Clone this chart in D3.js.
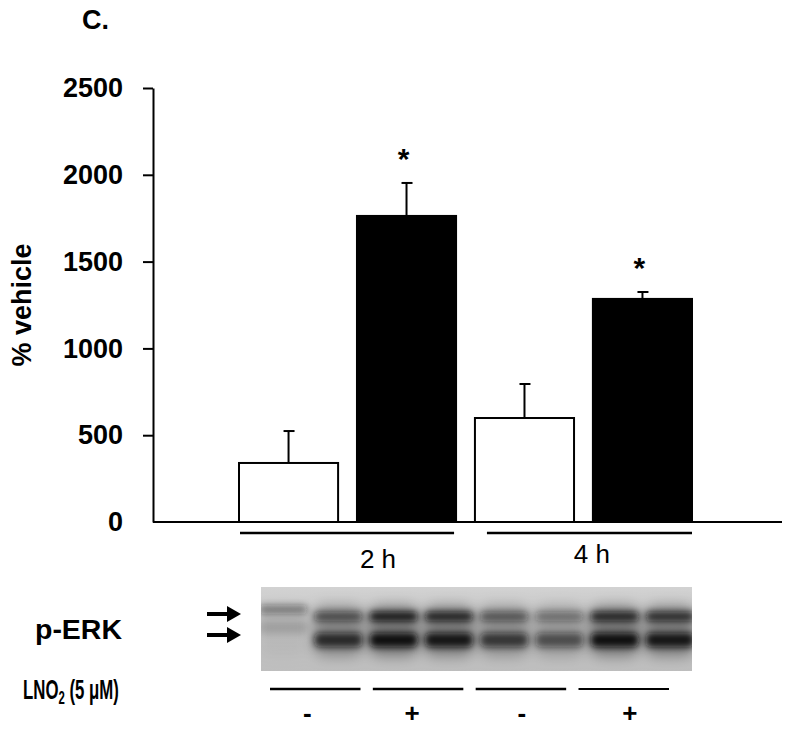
<!DOCTYPE html>
<html>
<head>
<meta charset="utf-8">
<script src="https://cdn.jsdelivr.net/npm/d3@7"></script>
<style>
  body { margin: 0; background: #fff; }
  text { font-family: "Liberation Sans", Arial, sans-serif; }
</style>
</head>
<body>
<div id="chart"></div>
<script>
// bar data (% vehicle)
var conditions = ["2h-", "2h+", "4h-", "4h+"];
var means = [340, 1763, 599, 1285];
var errors = [184, 190, 196, 40];
var treated = [false, true, false, true];
var significant = [false, true, false, true];
var yTicks = [0, 500, 1000, 1500, 2000, 2500];

var groups = ["2 h", "4 h"];

// western blot: band intensity per lane (0 = none, 1 = black)
var lanes = [1, 2, 3, 4, 5, 6, 7, 8];
var upperBand = [0.45, 0.60, 0.97, 0.90, 0.55, 0.40, 0.88, 0.82];
var lowerBand = [0.15, 0.80, 1.00, 0.95, 0.72, 0.58, 1.00, 0.95];
var treatments = ["-", "+", "-", "+"];

var W = 800, H = 729;

var svg = d3.select("#chart").append("svg")
    .attr("width", W)
    .attr("height", H);

var y = d3.scaleLinear()
    .domain([0, 2500])
    .range([522, 88]);

var x = d3.scaleBand()
    .domain(conditions)
    .range([239, 692])
    .paddingInner(0.16)
    .paddingOuter(0);

var bw = x.bandwidth();

/* panel letter */
svg.append("text")
    .attr("x", 82).attr("y", 29)
    .attr("font-size", 27).attr("font-weight", "bold")
    .text("C.");

/* axe y */
var yAxis = d3.axisLeft(y)
    .tickValues(yTicks)
    .tickFormat(d3.format("d"))
    .tickSize(10)
    .tickSizeOuter(0)
    .tickPadding(20);

var gy = svg.append("g")
    .attr("transform", "translate(153,0)")
    .call(yAxis);

gy.select(".domain").attr("stroke", "#000").attr("stroke-width", 2);
gy.selectAll(".tick line")
    .attr("stroke", "#000").attr("stroke-width", 2)
    .filter(function(d) { return d == 0; }).remove();
gy.selectAll(".tick text")
    .attr("font-family", "'Liberation Sans', Arial, sans-serif")
    .attr("font-size", 27).attr("font-weight", "bold")
    .attr("fill", "#000");

svg.append("text")
    .attr("transform", "translate(31," + ((y(0) + y(2500)) / 2) + ") rotate(-90)")
    .attr("text-anchor", "middle")
    .attr("font-size", 27).attr("font-weight", "bold")
    .text("% vehicle");

/* bars */
svg.append("g").selectAll("rect")
    .data(conditions)
    .enter().append("rect")
    .attr("x", function(d) { return x(d); })
    .attr("y", function(d, i) { return y(means[i]); })
    .attr("width", bw)
    .attr("height", function(d, i) { return y(0) - y(means[i]); })
    .attr("fill", function(d, i) { return treated[i] ? "#000" : "#fff"; })
    .attr("stroke", "#000")
    .attr("stroke-width", 2);

/* error bars (up only) */
var err = svg.append("g").attr("stroke", "#000").attr("stroke-width", 2);
conditions.forEach(function(d, i) {
    var cx = x(d) + bw / 2;
    err.append("line")
        .attr("x1", cx).attr("x2", cx)
        .attr("y1", y(means[i])).attr("y2", y(means[i] + errors[i]));
    err.append("line")
        .attr("x1", cx - 5).attr("x2", cx + 6)
        .attr("y1", y(means[i] + errors[i])).attr("y2", y(means[i] + errors[i]));
});

/* stars */
svg.append("g").selectAll("text")
    .data(conditions.filter(function(d, i) { return significant[i]; }))
    .enter().append("text")
    .attr("x", function(d) { return x(d) + bw / 2 - 3; })
    .attr("y", function(d) { var i = conditions.indexOf(d); return y(means[i] + errors[i]) - 14; })
    .attr("text-anchor", "middle")
    .attr("font-size", 30).attr("font-weight", "bold")
    .text("*");

/* baseline */
svg.append("line")
    .attr("x1", 153).attr("x2", 782)
    .attr("y1", y(0)).attr("y2", y(0))
    .attr("stroke", "#000").attr("stroke-width", 2);

/* time groups */
var grpLines = [
    [x("2h-") + 1, x("2h+") + bw - 2],
    [x("4h-") + 12, x("4h+") + bw]
];
var grpText = [x("2h+") + 21, x("4h+") - 1];
var grpY = [568, 563];

groups.forEach(function(g, i) {
    svg.append("line")
        .attr("x1", grpLines[i][0]).attr("x2", grpLines[i][1])
        .attr("y1", 533).attr("y2", 533)
        .attr("stroke", "#000").attr("stroke-width", 2.5);
    svg.append("text")
        .attr("x", grpText[i]).attr("y", grpY[i])
        .attr("text-anchor", "middle")
        .attr("font-size", 26)
        .text(g);
});

/* western blot */
var defs = svg.append("defs");
defs.append("filter").attr("id", "flou")
    .attr("x", "-30%").attr("y", "-80%").attr("width", "160%").attr("height", "260%")
    .append("feGaussianBlur").attr("stdDeviation", 3.8);
defs.append("filter").attr("id", "flou2")
    .attr("x", "-30%").attr("y", "-80%").attr("width", "160%").attr("height", "260%")
    .append("feGaussianBlur").attr("stdDeviation", 7);
var grad = defs.append("linearGradient").attr("id", "fond")
    .attr("x1", 0).attr("x2", 0).attr("y1", 0).attr("y2", 1);
grad.append("stop").attr("offset", "0%").attr("stop-color", "#d2d2d2");
grad.append("stop").attr("offset", "100%").attr("stop-color", "#bebebe");

var blot = { x0: 261, x1: 692, y0: 587, y1: 671 };
var clip = defs.append("clipPath").attr("id", "blotclip");
clip.append("rect")
    .attr("x", blot.x0).attr("y", blot.y0)
    .attr("width", blot.x1 - blot.x0).attr("height", blot.y1 - blot.y0);

svg.append("rect")
    .attr("x", blot.x0).attr("y", blot.y0)
    .attr("width", blot.x1 - blot.x0).attr("height", blot.y1 - blot.y0)
    .attr("fill", "url(#fond)");

var lx = d3.scalePoint()
    .domain(lanes)
    .range([blot.x0, blot.x1])
    .padding(0.4);

var bands = svg.append("g").attr("clip-path", "url(#blotclip)");

// halo sombre autour des bandes
bands.append("g").attr("filter", "url(#flou2)").selectAll("rect")
    .data(lanes)
    .enter().append("rect")
    .attr("x", function(d) { return lx(d) - 25; })
    .attr("y", 606)
    .attr("width", 50)
    .attr("height", 50)
    .attr("rx", 10)
    .attr("fill", "#000")
    .attr("fill-opacity", function(d, i) { return 0.4 * lowerBand[i]; });

var bandG = bands.append("g").attr("filter", "url(#flou)");
bandG.selectAll("rect.haut")
    .data(lanes)
    .enter().append("rect")
    .attr("class", "haut")
    .attr("x", function(d) { return lx(d) - 24; })
    .attr("y", function(d, i) { return i == 0 ? 605 : 612; })
    .attr("width", 48)
    .attr("height", 9)
    .attr("rx", 4)
    .attr("fill", "#111")
    .attr("fill-opacity", function(d, i) { return upperBand[i]; });

bandG.selectAll("rect.bas")
    .data(lanes)
    .enter().append("rect")
    .attr("class", "bas")
    .attr("x", function(d) { return lx(d) - 24; })
    .attr("y", function(d, i) { return i == 0 ? 620 : 633; })
    .attr("width", 48)
    .attr("height", 14)
    .attr("rx", 5)
    .attr("fill", "#111")
    .attr("fill-opacity", function(d, i) { return lowerBand[i]; });

/* p-ERK label + arrows */
svg.append("text")
    .attr("x", 35).attr("y", 639)
    .attr("font-size", 27).attr("font-weight", "bold")
    .attr("textLength", 87).attr("lengthAdjust", "spacingAndGlyphs")
    .text("p-ERK");

[614, 635].forEach(function(ay) {
    var p = d3.path();
    p.moveTo(207, ay - 2); p.lineTo(227, ay - 2); p.lineTo(227, ay - 8);
    p.lineTo(241, ay); p.lineTo(227, ay + 8); p.lineTo(227, ay + 2);
    p.lineTo(207, ay + 2); p.closePath();
    svg.append("path").attr("d", p.toString()).attr("fill", "#000");
});

/* LNO2 label, condensed */
var lno = svg.append("text")
    .attr("transform", "translate(23,699) scale(0.6,1)")
    .attr("font-size", 28).attr("font-weight", "bold");
lno.append("tspan").text("LNO");
lno.append("tspan").attr("font-size", 19).attr("dy", 5).text("2");
lno.append("tspan").attr("dy", -5).text(" (5 \u03bcM)");

/* treatment lines and signs */
var tx = d3.scaleBand()
    .domain(treatments.map(function(d, i) { return i; }))
    .range([270, 669])
    .paddingInner(0.12);
var signShift = [-8, -6, 1, 6];

treatments.forEach(function(t, i) {
    svg.append("line")
        .attr("x1", tx(i)).attr("x2", tx(i) + tx.bandwidth())
        .attr("y1", 689).attr("y2", 689)
        .attr("stroke", "#000").attr("stroke-width", i == 3 ? 2 : 2.6);
    svg.append("text")
        .attr("x", tx(i) + tx.bandwidth() / 2 + signShift[i])
        .attr("y", 722)
        .attr("text-anchor", "middle")
        .attr("font-size", 26).attr("font-weight", "bold")
        .text(t);
});
</script>
</body>
</html>
